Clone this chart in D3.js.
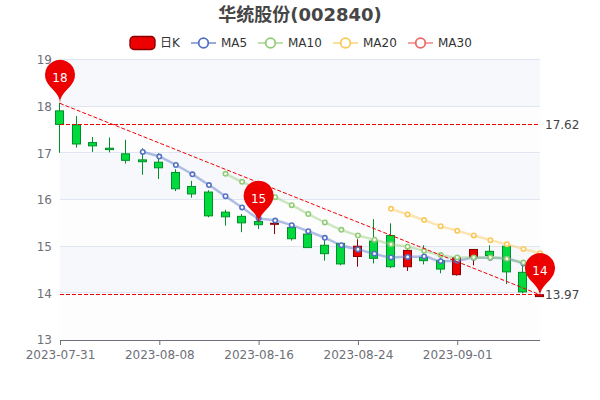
<!DOCTYPE html>
<html><head><meta charset="utf-8">
<script src="https://cdn.jsdelivr.net/npm/d3@7/dist/d3.min.js"></script>
<style>html,body{margin:0;padding:0;background:#fff}svg{display:block}text{font-family:"DejaVu Sans","Noto Sans CJK SC",sans-serif}</style>
</head><body><svg id="c" width="600" height="400"></svg>
<script>
const dates=["2023-07-31","2023-08-01","2023-08-02","2023-08-03","2023-08-04","2023-08-07","2023-08-08","2023-08-09","2023-08-10","2023-08-11","2023-08-14","2023-08-15","2023-08-16","2023-08-17","2023-08-18","2023-08-21","2023-08-22","2023-08-23","2023-08-24","2023-08-25","2023-08-28","2023-08-29","2023-08-30","2023-08-31","2023-09-01","2023-09-04","2023-09-05","2023-09-06","2023-09-07","2023-09-08"];
const tickDates=["2023-07-31","2023-08-08","2023-08-16","2023-08-24","2023-09-01"];
const yTicks=[13,14,15,16,17,18,19];
const opens =[17.91,17.61,17.23,17.11,16.99,16.86,16.81,16.59,16.29,16.17,15.74,15.65,15.54,15.48,15.41,15.27,15.03,15.07,14.79,15.12,15.24,14.57,14.77,14.70,14.40,14.78,14.90,15.01,14.45,13.93];
const closes=[17.62,17.20,17.16,17.08,16.85,16.82,16.69,16.24,16.13,15.66,15.64,15.51,15.47,15.50,15.17,14.98,14.85,14.63,15.01,14.75,14.57,14.92,14.70,14.52,14.76,14.94,14.81,14.46,14.03,13.97];
const lows  =[17.01,17.12,17.03,17.02,16.78,16.54,16.45,16.19,16.05,15.63,15.45,15.31,15.38,15.27,15.13,14.97,14.70,14.60,14.57,14.64,14.54,14.48,14.62,14.43,14.38,14.60,14.70,14.20,14.00,13.93];
const highs =[18.08,17.80,17.35,17.34,17.29,17.11,17.00,16.66,16.41,16.21,15.79,15.70,15.57,15.50,15.41,15.29,15.14,15.07,15.16,15.59,15.50,14.95,15.03,14.86,14.78,14.95,15.03,15.06,14.60,13.97];
const ma5 =[null,null,null,null,null,17.03,16.93,16.75,16.55,16.32,16.08,15.84,15.61,15.56,15.46,15.33,15.19,15.03,14.94,14.85,14.77,14.78,14.79,14.69,14.70,14.76,14.76,14.74,14.64,14.55];
const ma10=[null,null,null,null,null,null,null,null,null,null,16.56,16.39,16.23,16.06,15.89,15.70,15.52,15.36,15.24,15.15,15.05,15.00,14.91,14.82,14.77,14.77,14.77,14.74,14.66,14.55];
const ma20=[null,null,null,null,null,null,null,null,null,null,null,null,null,null,null,null,null,null,null,null,15.81,15.69,15.57,15.44,15.34,15.24,15.14,15.05,14.95,14.86];
const titleText="华统股份(002840)";
const legendNames=["日K","MA5","MA10","MA20","MA30"];
const maColors=["#5470c6","#91cc75","#fac858","#ee6666"];
const pinDates=["2023-07-31","2023-08-16","2023-09-08"];
const pinValues=[18.07,15.48,13.93];
const hLineValues=[17.62,13.97];
const diagDates=["2023-07-31","2023-09-08"];
const diagValues=[18.07,13.97];

const svg=d3.select("#c");
const x=d3.scalePoint().domain(dates).range([60,540]);
const y=d3.scaleLinear().domain([13,19]).range([340,60]);

yTicks.slice(0,-1).forEach((t,i)=>{
  svg.append("rect").attr("x",60).attr("width",480).attr("y",y(t+1)).attr("height",y(t)-y(t+1))
     .attr("fill",i%2?"#f6f8fc":"#fdfdfe");
});
svg.append("g").selectAll("line").data(yTicks.slice(1)).join("line")
  .attr("x1",60).attr("x2",540).attr("y1",d=>Math.round(y(d))-.5).attr("y2",d=>Math.round(y(d))-.5).attr("stroke","#E0E6F1");

const gx=svg.append("g").attr("transform","translate(0,340)")
  .call(d3.axisBottom(x).tickValues(tickDates).tickSize(5).tickPadding(5));
gx.selectAll("path").attr("d","M60,0.5H540").attr("stroke","#6E7079");
gx.selectAll("line").attr("stroke","#6E7079");
gx.selectAll("text").attr("fill","#6E7079").attr("font-size",12);
const gy=svg.append("g").attr("transform","translate(60,0)")
  .call(d3.axisLeft(y).tickValues(yTicks).tickSize(0).tickPadding(8).tickFormat(d3.format("d")));
gy.select("path").remove();
gy.selectAll("text").attr("fill","#6E7079").attr("font-size",12);

const upFill="#ec0000",upB="#8A0000",dnFill="#00da3c",dnB="#008F28",bw=8;
const cg=svg.append("g").selectAll("g").data(dates).join("g");
cg.each(function(d,i){
  const g=d3.select(this),up=closes[i]>=opens[i],cx=Math.round(x(d))-.5;
  const top=y(Math.max(opens[i],closes[i])),bot=y(Math.min(opens[i],closes[i]));
  const col=up?upB:dnB;
  g.append("line").attr("x1",cx).attr("x2",cx).attr("y1",y(highs[i])).attr("y2",top).attr("stroke",col);
  g.append("line").attr("x1",cx).attr("x2",cx).attr("y1",bot).attr("y2",y(lows[i])).attr("stroke",col);
  g.append("rect").attr("x",cx-bw/2).attr("width",bw).attr("y",top).attr("height",Math.max(bot-top,.5))
    .attr("fill",up?upFill:dnFill).attr("stroke",col);
});

const line=d3.line().defined(d=>d[1]!=null).x(d=>x(d[0])).y(d=>y(d[1])).curve(d3.curveMonotoneX);
[ma5,ma10,ma20].forEach((arr,k)=>{
  const pts=dates.map((d,i)=>[d,arr[i]]);
  svg.append("path").attr("d",line(pts)).attr("fill","none").attr("stroke",maColors[k]).attr("stroke-width",2.5).attr("stroke-opacity",.45);
  svg.append("g").selectAll("circle").data(pts.filter(p=>p[1]!=null)).join("circle")
    .attr("cx",p=>x(p[0])).attr("cy",p=>y(p[1])).attr("r",2.2)
    .attr("fill","#fff").attr("stroke",maColors[k]).attr("stroke-width",1.6);
});

const ml=svg.append("g").attr("fill","none").attr("stroke","#f00000");
hLineValues.forEach(v=>{
  const ly=Math.floor(y(v))+.5;
  ml.append("line").attr("x1",60).attr("x2",540).attr("y1",ly).attr("y2",ly).attr("stroke-dasharray","4,2");
  svg.append("text").attr("x",545).attr("y",y(v)).attr("dy","0.36em").attr("font-size",12).attr("fill","#444").text(d3.format(".2f")(v));
});
ml.append("line").attr("x1",x(diagDates[0])).attr("y1",y(diagValues[0])).attr("x2",x(diagDates[1])).attr("y2",y(diagValues[1])).attr("stroke-dasharray","4,2");

function pinPath(px,py){
  const w=30,h=50,r=w/2,dy=r*r/(h-r),cy=py-h+r+dy,ang=Math.asin(dy/r),dx=Math.cos(ang)*r,tX=Math.sin(ang),tY=Math.cos(ang),c1=r*.6,c2=r*.7;
  const p=d3.path();
  p.moveTo(px-dx,cy+dy);
  p.arc(px,cy,r,Math.PI-ang,Math.PI*2+ang);
  p.bezierCurveTo(px+dx-tX*c1,cy+dy+tY*c1,px,py-c2,px,py);
  p.bezierCurveTo(px,py-c2,px-dx+tX*c1,cy+dy+tY*c1,px-dx,cy+dy);
  p.closePath();
  return p.toString();
}
pinDates.forEach((d,i)=>{
  const px=x(d),py=y(pinValues[i]);
  svg.append("path").attr("d",pinPath(px,py)).attr("fill","#ec0000");
  svg.append("text").attr("x",px).attr("y",py-26).attr("dy","0.36em").attr("text-anchor","middle").attr("font-size",12).attr("fill","#fff").text(d3.format(".0f")(pinValues[i]));
});

svg.append("text").attr("x",300).attr("y",21).attr("text-anchor","middle").attr("font-size",18).attr("font-weight","bold").attr("fill","#464646").text(titleText);

svg.append("rect").attr("x",130).attr("y",36.5).attr("width",25).attr("height",13).attr("rx",4).attr("fill",upFill).attr("stroke",upB).attr("stroke-width",1.4);
svg.append("text").attr("x",160).attr("y",43).attr("dy","0.36em").attr("font-size",12).attr("fill","#333").text(legendNames[0]);
const iconX=[191,258,333,408];
iconX.forEach((ix,k)=>{
  svg.append("line").attr("x1",ix).attr("x2",ix+25).attr("y1",43).attr("y2",43).attr("stroke",maColors[k]).attr("stroke-width",2).attr("stroke-opacity",.6);
  svg.append("circle").attr("cx",ix+12.5).attr("cy",43).attr("r",4.8).attr("fill","#fff").attr("stroke",maColors[k]).attr("stroke-width",1.8);
  svg.append("text").attr("x",ix+30).attr("y",43).attr("dy","0.36em").attr("font-size",12).attr("fill","#333").text(legendNames[k+1]);
});
</script></body></html>
